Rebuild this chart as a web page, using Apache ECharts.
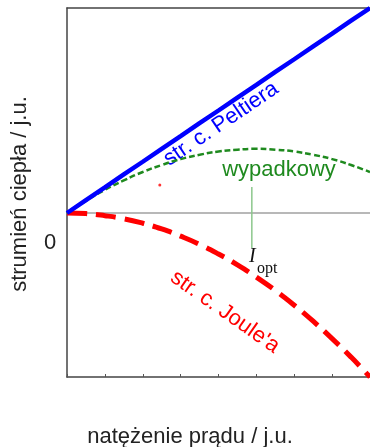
<!DOCTYPE html>
<html>
<head>
<meta charset="utf-8">
<script src="https://cdn.jsdelivr.net/npm/echarts@6/dist/echarts.min.js"></script>
<style>html,body{margin:0;padding:0;background:#fff;}#c{width:370px;height:447px;}</style>
</head>
<body>
<div id="c"></div>
<script>
// current (arbitrary units)
const current = [0,0.5,1,1.5,2,2.5,3,3.5,4,4.5,5,5.5,6,6.5,7,7.5,8];
// Peltier heat flux (linear)
const peltier = [0,0.63,1.25,1.88,2.5,3.13,3.75,4.38,5,5.63,6.25,6.88,7.5,8.13,8.75,9.38,10];
// Joule heat flux (negative, quadratic shape)
const joule = [0,-0.03,-0.13,-0.28,-0.5,-0.78,-1.13,-1.53,-2,-2.53,-3.13,-3.78,-4.5,-5.28,-6.13,-7.03,-8];
// resulting (net) flux
const net = [0,0.59,1.13,1.59,2,2.34,2.63,2.84,3,3.09,3.13,3.09,3,2.84,2.63,2.34,2];
// optimum current marker
const iOptX = 4.88;
const iOptY = [1.27, -1.71];
// stray red dot
const dot = [[2.45, 1.37]];
const xRange = [0, 8];
const yRange = [-8, 10];

const pair = (xs, ys) => xs.map((x, i) => [x, ys[i]]);
const chart = echarts.init(document.getElementById('c'));
const F = '"Liberation Sans", Arial, sans-serif';
chart.setOption({
  animation: false,
  grid: {left: 67, right: 0, top: 8, bottom: 70},
  xAxis: [{
    type: 'value', min: xRange[0], max: xRange[1], interval: 1,
    axisLine: {show: true, onZero: false, lineStyle: {color: '#444', width: 1.5}},
    axisTick: {show: true, inside: true, length: 3, lineStyle: {color: '#555'}},
    axisLabel: {show: false}, splitLine: {show: false}
  }, {
    type: 'value', position: 'top', min: xRange[0], max: xRange[1],
    axisLine: {show: true, onZero: false, lineStyle: {color: '#444', width: 1.5}},
    axisTick: {show: false}, axisLabel: {show: false}, splitLine: {show: false}
  }],
  yAxis: {
    type: 'value', min: yRange[0], max: yRange[1],
    axisLine: {show: true, onZero: false, lineStyle: {color: '#444', width: 1.5}},
    axisTick: {show: false}, axisLabel: {show: false}, splitLine: {show: false}
  },
  series: [
    {type: 'line', data: [[xRange[0], 0], [xRange[1], 0]], symbol: 'none',
     lineStyle: {color: '#a0a0a0', width: 1.5}, silent: true},
    {type: 'line', data: [[iOptX, iOptY[0]], [iOptX, iOptY[1]]], symbol: 'none',
     lineStyle: {color: '#8cc78c', width: 1.5}},
    {type: 'line', data: pair(current, joule), symbol: 'none', smooth: true,
     lineStyle: {color: '#ff0000', width: 5, type: [20, 9]}},
    {type: 'line', data: pair(current, net), symbol: 'none', smooth: true,
     lineStyle: {color: '#1f8a1f', width: 2.5, type: [6, 3]}},
    {type: 'line', data: pair(current, peltier), symbol: 'none',
     lineStyle: {color: '#0000ff', width: 4.5}},
    {type: 'scatter', data: dot, symbolSize: 3, itemStyle: {color: '#ff0000'}}
  ],
  graphic: [
    {type: 'text', x: 221, y: 124, rotation: 34 * Math.PI / 180,
     style: {text: 'str. c. Peltiera', fill: '#0000ff', font: '22px ' + F, textAlign: 'center', textVerticalAlign: 'middle'}},
    {type: 'text', x: 225, y: 312, rotation: -35 * Math.PI / 180,
     style: {text: "str. c. Joule'a", fill: '#ff0000', font: '22px ' + F, textAlign: 'center', textVerticalAlign: 'middle'}},
    {type: 'text', x: 279, y: 170,
     style: {text: 'wypadkowy', fill: '#1f8a1f', font: '22px ' + F, textAlign: 'center', textVerticalAlign: 'middle'}},
    {type: 'text', x: 50, y: 243,
     style: {text: '0', fill: '#222', font: '22px ' + F, textAlign: 'center', textVerticalAlign: 'middle'}},
    {type: 'text', x: 190, y: 437,
     style: {text: 'natężenie prądu / j.u.', fill: '#222', font: '22px ' + F, textAlign: 'center', textVerticalAlign: 'middle'}},
    {type: 'text', x: 20, y: 194, rotation: Math.PI / 2,
     style: {text: 'strumień ciepła / j.u.', fill: '#222', font: '22px ' + F, textAlign: 'center', textVerticalAlign: 'middle'}},
    {type: 'text', x: 249, y: 257,
     style: {text: 'I', fill: '#111', font: 'italic 20px "Liberation Serif", "Times New Roman", serif', textAlign: 'left', textVerticalAlign: 'middle'}},
    {type: 'text', x: 257, y: 269,
     style: {text: 'opt', fill: '#111', font: '16px "Liberation Serif", "Times New Roman", serif', textAlign: 'left', textVerticalAlign: 'middle'}}
  ]
});
</script>
</body>
</html>
